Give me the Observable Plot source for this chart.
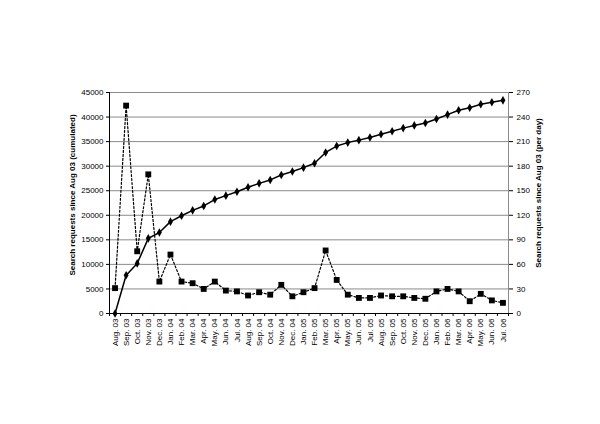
<!DOCTYPE html>
<html><head><meta charset="utf-8">
<script src="https://cdn.jsdelivr.net/npm/d3@7"></script>
<script src="https://cdn.jsdelivr.net/npm/@observablehq/plot@0.6"></script>
<style>body{margin:0;background:#fff}</style>
</head><body><div id="chart"></div>
<script>
const months = ["Aug. 03","Sep. 03","Oct. 03","Nov. 03","Dec. 03","Jan. 04","Feb. 04","Mar. 04","Apr. 04","May. 04","Jun. 04","Jul. 04","Aug. 04","Sep. 04","Oct. 04","Nov. 04","Dec. 04","Jan. 05","Feb. 05","Mar. 05","Apr. 05","May. 05","Jun. 05","Jul. 05","Aug. 05","Sep. 05","Oct. 05","Nov. 05","Dec. 05","Jan. 06","Feb. 06","Mar. 06","Apr. 06","May. 06","Jun. 06","Jul. 06"];
const cumulated = [0,7800,10200,15300,16500,18700,19900,21000,21900,23200,24000,24800,25700,26500,27200,28200,28900,29700,30600,32800,34100,34800,35300,35850,36500,37100,37750,38300,38800,39600,40500,41400,41900,42600,43000,43400];
const perDay = [31,254,76,170,39,72,39,37,30,39,28,27,22,26,23,35,21,26,31,77,41,23,19,19,22,21,21,19,18,27,30,27,15,24,16,13];
const leftTicks = [0,5000,10000,15000,20000,25000,30000,35000,40000,45000];
const rightTicks = [0,30,60,90,120,150,180,210,240,270];
const leftTitle = "Search requests since Aug 03 (cumulated)";
const rightTitle = "Search requests since Aug 03 (per day)";

const ratio = 45000 / 270;
const rows = months.map((m, i) => ({i, m, cum: cumulated[i], day: perDay[i] * ratio}));
const font = "Liberation Sans, Arial, sans-serif";

const chart = Plot.plot({
  width: 600, height: 424,
  marginTop: 92, marginBottom: 111, marginLeft: 109, marginRight: 92,
  style: {fontFamily: font, fontSize: "8px", background: "#fff", color: "#000"},
  x: {type: "linear", domain: [-0.5, months.length - 0.5]},
  y: {domain: [0, 45000]},
  marks: [
    Plot.ruleY(leftTicks, {stroke: "#8a8a8a", strokeWidth: 1}),
    Plot.ruleX([months.length - 0.5], {stroke: "#8a8a8a", strokeWidth: 1}),
    Plot.ruleX([-0.5], {stroke: "#000", strokeWidth: 1}),
    Plot.ruleY([0], {stroke: "#000", strokeWidth: 1}),
    Plot.axisY(leftTicks, {anchor: "left", tickSize: 3, tickPadding: 3, fontSize: 8, label: null, tickFormat: d => String(d)}),
    Plot.axisY(rightTicks.map(v => v * ratio), {anchor: "right", tickSize: 4, tickPadding: 4, fontSize: 8, label: null, tickFormat: d => String(Math.round(d / ratio))}),
    Plot.axisX(d3.range(-0.5, months.length, 1), {tickSize: 3, tickFormat: () => "", label: null}),
    Plot.axisX(d3.range(months.length), {tickSize: 0, tickPadding: 5, tickRotate: -90, fontSize: 8, label: null, tickFormat: i => months[i]}),
    Plot.line(rows, {x: "i", y: "day", stroke: "#000", strokeWidth: 1.2, strokeDasharray: "2,2"}),
    Plot.dot(rows, {x: "i", y: "day", symbol: "square", r: 3.3, fill: "#000", stroke: null}),
    Plot.line(rows, {x: "i", y: "cum", stroke: "#000", strokeWidth: 1.5}),
    Plot.dot(rows, {x: "i", y: "cum", symbol: "diamond", r: 2.6, fill: "#000", stroke: null}),
    Plot.text([leftTitle], {frameAnchor: "left", textAnchor: "middle", rotate: -90, dx: -37, dy: -8, fontWeight: "bold", fontSize: 8, fill: "#000"}),
    Plot.text([rightTitle], {frameAnchor: "right", textAnchor: "middle", rotate: -90, dx: 30, dy: -10, fontWeight: "bold", fontSize: 8, fill: "#000"})
  ]
});
document.getElementById("chart").appendChild(chart);
</script>
</body></html>
